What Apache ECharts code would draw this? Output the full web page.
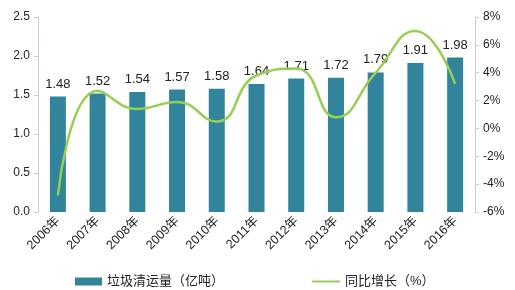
<!DOCTYPE html>
<html><head><meta charset="utf-8">
<script src="https://cdn.jsdelivr.net/npm/echarts@6/dist/echarts.min.js"></script>
<style>html,body{margin:0;padding:0;background:#fff}#c{width:515px;height:290px}</style>
</head><body><div id="c"></div>
<script>
const categories = ['2006年','2007年','2008年','2009年','2010年','2011年','2012年','2013年','2014年','2015年','2016年'];
const volume = [1.48,1.52,1.54,1.57,1.58,1.64,1.71,1.72,1.79,1.91,1.98];
const growth = [-4.8,2.7,1.4,1.9,0.5,3.8,4.3,0.8,4.0,7.0,3.2];
const chart = echarts.init(document.getElementById('c'));
const font = 'Liberation Sans, Arial, Noto Sans CJK SC, sans-serif';
const axisColor = '#bfd0dc';
chart.setOption({
  animation:false,
  textStyle:{fontFamily:font},
  grid:{left:38,right:40,top:17,bottom:78,containLabel:false},
  legend:[
    {left:70,top:270,itemGap:40,itemWidth:27,itemHeight:8,icon:'rect',
     textStyle:{fontSize:13,color:'#222',fontFamily:font},
     data:['垃圾清运量（亿吨）']},
    {left:307,top:270,itemWidth:28,itemHeight:2,icon:'rect',
     textStyle:{fontSize:13,color:'#222',fontFamily:font},
     data:['同比增长（%）']}
  ],
  xAxis:{type:'category',data:categories,boundaryGap:true,
    axisLine:{show:false},axisTick:{show:false},
    axisLabel:{rotate:45,interval:0,fontSize:12.5,color:'#222',margin:7}},
  yAxis:[
    {type:'value',min:0,max:2.5,interval:0.5,
     axisLine:{show:true,lineStyle:{color:axisColor}},
     axisTick:{show:true,length:4,lineStyle:{color:axisColor}},
     splitLine:{show:false},
     axisLabel:{formatter:v=>v.toFixed(1),fontSize:12,color:'#222',margin:8}},
    {type:'value',min:-6,max:8,interval:2,position:'right',
     axisLine:{show:true,lineStyle:{color:axisColor}},
     axisTick:{show:true,length:4,lineStyle:{color:axisColor}},
     splitLine:{show:false},
     axisLabel:{formatter:v=>v+'%',fontSize:12,color:'#222',margin:8}}
  ],
  series:[
    {name:'垃圾清运量（亿吨）',type:'bar',data:volume,barWidth:16,
     itemStyle:{color:'#31849b'},
     label:{show:true,position:'top',fontSize:13,color:'#222',distance:6}},
    {name:'同比增长（%）',type:'line',yAxisIndex:1,data:growth,smooth:0.5,
     symbol:'none',lineStyle:{color:'#96cf52',width:2.5},itemStyle:{color:'#96cf52'}}
  ]
});
</script></body></html>
